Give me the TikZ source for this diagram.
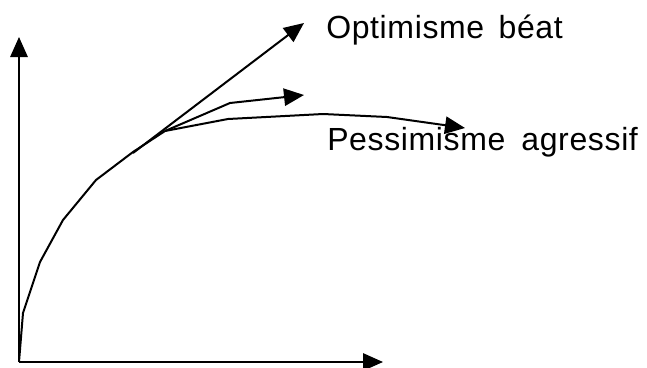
\documentclass[tikz,border=0pt]{standalone}
\usepackage{fontspec}
\setmainfont{Liberation Sans}
\usetikzlibrary{arrows.meta}
\tikzset{
  trend/.style={line width=1.5pt,line join=round},
  head/.style={-{Triangle[length=15pt,width=13pt]}},
  lbl/.style={anchor=base west,inner sep=0pt,font=\fontsize{24pt}{28pt}\selectfont\addfontfeature{LetterSpace=2}}
}
\begin{document}
\begin{tikzpicture}[x=0.75pt,y=-0.75pt]
  \useasboundingbox (0,0) rectangle (647,368);
  % axes
  \coordinate (O) at (19,362);
  \draw[trend,head] (O) -- (19,37);
  \draw[trend,head] (O) -- (383,362);
  % common growth curve
  \coordinate (fork) at (165,131);
  \draw[trend] (O) -- (23,313) -- (40,262) -- (63,220) -- (96,180) -- (133,152) -- (fork);
  % three futures
  \draw[trend,head] (133,153) -- (304,23);
  \draw[trend,head] (fork) -- (230,103) -- (304,95);
  \draw[trend,head] (fork) -- (228,119) -- (323,114) -- (387,117) -- (465,128);
  \node[lbl] (opti) at (326,38) {Optimisme\ \hspace{0.15em}béat};
  \node[lbl] (pessi) at (327,150) {Pessimisme\ \hspace{0.2em}agressif};
\end{tikzpicture}
\end{document}
